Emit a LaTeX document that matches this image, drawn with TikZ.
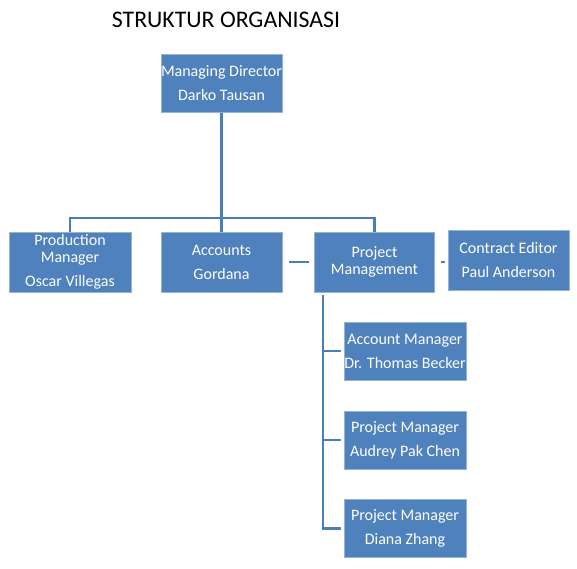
\documentclass[tikz,border=0pt]{standalone}
\usepackage{fontspec}
\setmainfont{Carlito}
\definecolor{boxfill}{RGB}{79,129,189}
\definecolor{boxline}{RGB}{149,179,215}
\definecolor{connblue}{RGB}{74,126,187}
\begin{document}
\begin{tikzpicture}[x=1pt,y=-1pt,
  orgbox/.style={draw=boxline, line width=1pt, fill=boxfill, text=white, align=center,
    inner sep=0pt, font=\fontsize{16}{17}\selectfont},
  conn/.style={draw=connblue, line width=2.6pt}]
\useasboundingbox (0,0) rectangle (577,568);
\node (title) at (226,20) {\fontsize{23.8}{26}\selectfont STRUKTUR ORGANISASI};
\node[orgbox, minimum width=121pt, minimum height=58pt] (md) at (221.5,83) {Managing Director\\[7pt]Darko Tausan};
\node[orgbox, minimum width=122pt, minimum height=60pt] (prod) at (70,262) {Production\\Manager\\[7pt]Oscar Villegas};
\node[orgbox, minimum width=121pt, minimum height=60pt] (acc) at (221.5,262) {Accounts\\[7pt]Gordana};
\node[orgbox, minimum width=120pt, minimum height=60pt] (pm) at (374.5,262) {Project\\Management};
\node[orgbox, minimum width=121pt, minimum height=60pt] (ce) at (508.5,260) {Contract Editor\\[7pt]Paul Anderson};
\node[orgbox, minimum width=122pt, minimum height=58pt] (s1) at (405,351) {Account Manager\\[7pt]Dr. Thomas Becker};
\node[orgbox, minimum width=122pt, minimum height=58pt] (s2) at (405,440) {Project Manager\\[7pt]Audrey Pak Chen};
\node[orgbox, minimum width=122pt, minimum height=58pt] (s3) at (405,528.5) {Project Manager\\[7pt]Diana Zhang};
\coordinate (bus) at (221.5,218);
\coordinate (vtop) at (323,295);
\draw[conn] (md.south) -- (acc.north);
\draw[conn] (prod.north) |- (bus) -| (pm.north);
\draw[conn, shorten <=6pt, shorten >=5pt] (acc.east) -- (pm.west);
\draw[conn, shorten <=6pt, shorten >=3pt] (pm.east) -- (pm.east -| ce.west);
\draw[conn] (vtop) |- ([xshift=-3pt]s3.west);
\draw[conn] (vtop |- s1.west) -- ([xshift=-3pt]s1.west);
\draw[conn] (vtop |- s2.west) -- ([xshift=-3pt]s2.west);
\end{tikzpicture}
\end{document}
